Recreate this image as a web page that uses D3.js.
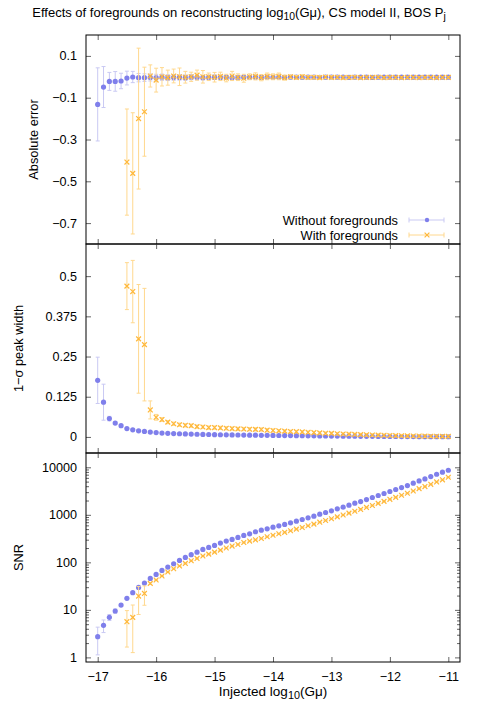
<!DOCTYPE html>
<html><head><meta charset="utf-8">
<script src="https://cdn.jsdelivr.net/npm/d3@7"></script>
<style>
body{margin:0;background:#fff}
svg{display:block}
text{font-family:"Liberation Sans",Arial,Helvetica,sans-serif;fill:#000}
</style>
</head><body>
<svg id="chart" width="480" height="720"></svg>
<script>
// ---------- data ----------
const injected = [-17,-16.9,-16.8,-16.7,-16.6,-16.5,-16.4,-16.3,-16.2,-16.1,-16,
 -15.9,-15.8,-15.7,-15.6,-15.5,-15.4,-15.3,-15.2,-15.1,-15,
 -14.9,-14.8,-14.7,-14.6,-14.5,-14.4,-14.3,-14.2,-14.1,-14,
 -13.9,-13.8,-13.7,-13.6,-13.5,-13.4,-13.3,-13.2,-13.1,-13,
 -12.9,-12.8,-12.7,-12.6,-12.5,-12.4,-12.3,-12.2,-12.1,-12,
 -11.9,-11.8,-11.7,-11.6,-11.5,-11.4,-11.3,-11.2,-11.1,-11];
const injectedWith = injected.slice(5); // with-foreground runs start at -16.5

const absErrWithout = [-0.132,-0.049,-0.022,-0.022,-0.020,-0.006,-0.001,-0.004,-0.004,-0.003,-0.004,
 -0.002,-0.004,-0.003,-0.003,-0.004,-0.002,-0.003,-0.004,-0.003,-0.002,
 -0.003,-0.002,-0.004,-0.003,-0.002,-0.003,-0.002,-0.003,-0.002,-0.003,
 -0.002,-0.003,-0.002,-0.002,-0.003,-0.002,-0.002,-0.003,-0.002,-0.002,
 -0.002,-0.002,-0.003,-0.002,-0.002,-0.002,-0.003,-0.002,-0.002,-0.002,
 -0.002,-0.002,-0.002,-0.002,-0.002,-0.002,-0.002,-0.002,-0.002,-0.002];
const absErrWithoutSd = [0.175,0.098,0.043,0.047,0.037,0.033,0.027,0.020,0.018,0.017,0.016,
 0.015,0.014,0.014,0.013,0.013,0.012,0.012,0.011,0.011,0.011,
 0.010,0.010,0.010,0.009,0.009,0.009,0.009,0.008,0.008,0.008,
 0.008,0.007,0.007,0.007,0.007,0.006,0.006,0.006,0.006,0.006,
 0.006,0.005,0.005,0.005,0.005,0.005,0.005,0.005,0.004,0.004,
 0.004,0.004,0.004,0.004,0.004,0.004,0.004,0.004,0.004,0.004];
const absErrWith = [-0.408,-0.462,-0.200,-0.167,0.004,-0.016,
 0.000,-0.004,0.004,0.000,-0.002,0.000,0.008,0.000,0.000,-0.002,
 0.002,-0.006,0.004,-0.002,-0.007,0.000,0.002,-0.004,0.002,0.000,
 0.002,-0.004,0.000,-0.003,0.000,-0.003,-0.002,-0.004,-0.001,-0.003,
 -0.002,-0.004,-0.003,-0.002,-0.004,-0.003,-0.003,-0.002,-0.004,-0.003,
 -0.003,-0.004,-0.003,-0.003,-0.004,-0.003,-0.003,-0.004,-0.003,-0.003];
const absErrWithSd = [0.254,0.290,0.337,0.213,0.053,0.057,
 0.044,0.036,0.033,0.042,0.028,0.022,0.024,0.030,0.018,0.023,
 0.020,0.018,0.022,0.016,0.019,0.014,0.017,0.015,0.016,0.014,
 0.016,0.012,0.009,0.009,0.010,0.008,0.008,0.009,0.007,0.008,
 0.007,0.007,0.006,0.007,0.006,0.006,0.006,0.006,0.005,0.006,
 0.005,0.005,0.005,0.005,0.005,0.004,0.005,0.004,0.004,0.004];

const widthWithout = [0.176,0.108,0.057,0.043,0.035,0.026,0.022,0.019,0.017,0.015,0.0135,
 0.012,0.0112,0.0105,0.0099,0.0093,0.0088,0.0083,0.0079,0.0075,0.0071,
 0.0068,0.0065,0.0062,0.0060,0.0058,0.0055,0.0053,0.0051,0.0049,0.0047,
 0.0045,0.0043,0.0041,0.0039,0.0037,0.0035,0.0033,0.0031,0.0029,0.0027,
 0.0026,0.0024,0.0023,0.0021,0.0020,0.0019,0.0018,0.0016,0.0015,0.0014,
 0.0013,0.0012,0.0011,0.0010,0.0009,0.0009,0.0008,0.0007,0.0007,0.0006];
const widthWithoutSd = [0.072,0.056,0.007,0.004,0.003,0.002,0.002,0.002,0.002,0.002,0.002,
 0.001,0.001,0.001,0.001,0.001,0.001,0.001,0.001,0.001,0.001,
 0.001,0.001,0.001,0.001,0.001,0.001,0.001,0.001,0.001,0.001,
 0.001,0.001,0.001,0.001,0.001,0.001,0.001,0.001,0.001,0.001,
 0.001,0.001,0.001,0.001,0.001,0.001,0.001,0.001,0.001,0.001,
 0.001,0.001,0.001,0.001,0.001,0.001,0.001,0.001,0.001,0.001];
const widthWith = [0.469,0.452,0.305,0.287,0.084,0.061,
 0.054,0.046,0.041,0.038,0.036,0.035,0.032,0.031,0.029,0.029,
 0.028,0.027,0.026,0.025,0.0245,0.024,0.0235,0.023,0.021,0.020,
 0.019,0.018,0.017,0.0163,0.0155,0.0145,0.0135,0.0125,0.0115,0.011,
 0.0100,0.0092,0.0085,0.0078,0.0072,0.0066,0.0060,0.0055,0.0050,0.0045,
 0.0041,0.0037,0.0033,0.0030,0.0027,0.0024,0.0021,0.0019,0.0017,0.0015];
const widthWithSd = [0.073,0.097,0.169,0.175,0.028,0.009,
 0.006,0.005,0.005,0.005,0.005,0.005,0.005,0.005,0.005,0.005,
 0.005,0.005,0.005,0.005,0.005,0.005,0.005,0.005,0.005,0.005,
 0.004,0.004,0.004,0.004,0.004,0.004,0.004,0.004,0.004,0.004,
 0.004,0.004,0.004,0.004,0.004,0.004,0.004,0.004,0.004,0.004,
 0.004,0.004,0.004,0.004,0.004,0.004,0.004,0.004,0.004,0.004];

const snrWithout = [2.73,4.73,6.97,9.47,12.6,17.5,23.0,29.7,36.7,46.0,55.7,
 67.6,79.6,93.5,110,127,145,164,187,206,227,
 254,280,303,334,368,399,440,476,508,551,
 587,627,679,736,798,865,938,1033,1120,1213,
 1336,1448,1595,1758,1905,2099,2313,2549,2808,3094,
 3409,3750,4130,4625,5180,5700,6380,7150,7880,8680];
const snrWithoutSd = [1.6,1.4,1.0,1.0,0.8,0.8,0.9,1.0,1.0,1.1,1.2,
 1.3,1.4,1.5,1.7,1.9,2.1,2.3,2.6,2.8,3.1,
 3.4,3.7,4.0,4.4,4.8,5.2,5.7,6.2,6.6,7.1,
 7.6,8.1,8.7,9.4,10,11,12,13,14,15,
 17,18,20,22,24,26,28,31,34,37,
 40,44,48,53,58,63,70,77,84,92];
const snrWith = [5.65,6.96,19.5,22.2,36,42.5,
 51.5,62.5,73.4,83.6,94.9,108,121,136,149,164,
 181,200,220,238,262,280,298,318,345,372,
 400,428,463,500,542,588,638,700,760,825,
 905,990,1085,1190,1300,1430,1570,1740,1920,2120,
 2330,2580,2850,3180,3560,3930,4380,4920,5450,6190];
const snrWithSd = [4.0,5.7,11.5,9.7,1.6,1.2,
 1.2,1.3,1.4,1.5,1.6,1.7,1.8,2.0,2.1,2.3,
 2.5,2.7,2.9,3.1,3.3,3.5,3.8,4.0,4.3,4.6,
 4.9,5.2,5.6,6.0,6.5,7.0,7.5,8.2,8.9,9.6,
 10.4,11.3,12.3,13.4,14.6,16,17.5,19,21,23,
 25,27.5,30,33,37,40,44,49,54,60];

const xTicks = [-17,-16,-15,-14,-13,-12,-11];
const xTickLabels = ["\u221217","\u221216","\u221215","\u221214","\u221213","\u221212","\u221211"];
const absTicks = [0.1,-0.1,-0.3,-0.5,-0.7];
const absTickLabels = ["0.1","\u22120.1","\u22120.3","\u22120.5","\u22120.7"];
const widthTicks = [0.5,0.375,0.25,0.125,0];
const widthTickLabels = ["0.5","0.375","0.25","0.125","0"];
const snrTicks = [1,10,100,1000,10000];
const snrTickLabels = ["1","10","100","1000","10000"];
const seriesNames = ["Without foregrounds","With foregrounds"];

// ---------- style ----------
const BLUE = "#7f7feb", BLUE_ERR = "#c9c9f3";
const ORANGE = "#ffb83a", ORANGE_ERR = "#ffd88e";
const TICK = "#666";
const FS = 12.8;

const svg = d3.select("#chart");
const L = 86, R = 460;
const x = d3.scaleLinear().domain([-17.2, -10.8]).range([L, R]);

const panels = [
  {top:35, bot:244, scale:d3.scaleLinear().domain([-0.8,0.2]).range([244,35]),
   ticks:absTicks, labels:absTickLabels, title:"Absolute error", labelX:33,
   blue:absErrWithout, blueSd:absErrWithoutSd, orange:absErrWith, orangeSd:absErrWithSd},
  {top:244, bot:453, scale:d3.scaleLinear().domain([-0.05,0.6]).range([453,244]),
   ticks:widthTicks, labels:widthTickLabels, title:"1\u2212\u03c3 peak width", labelX:18,
   blue:widthWithout, blueSd:widthWithoutSd, orange:widthWith, orangeSd:widthWithSd},
  {top:453, bot:662, scale:d3.scaleLog().domain([0.8,20000]).range([662,453]),
   ticks:snrTicks, labels:snrTickLabels, title:"SNR", labelX:18, log:true,
   blue:snrWithout, blueSd:snrWithoutSd, orange:snrWith, orangeSd:snrWithSd}
];

panels.forEach((p, pi) => {
  const y = p.scale;
  const g = svg.append("g");
  const clipId = "clip" + pi;
  svg.append("clipPath").attr("id", clipId).append("rect")
    .attr("x", L).attr("y", p.top).attr("width", R - L).attr("height", p.bot - p.top);

  // axes (ticks inward, mirrored)
  const styleAxis = sel => { sel.select(".domain").remove(); sel.selectAll(".tick line").attr("stroke", TICK); };
  g.append("g").attr("transform", `translate(${L},0)`)
    .call(d3.axisLeft(y).tickValues(p.ticks).tickSize(-5).tickPadding(9)
      .tickFormat((d,i) => p.labels[i]))
    .call(styleAxis)
    .call(s => s.selectAll("text").attr("font-size", 12.6).attr("font-family", null));
  g.append("g").attr("transform", `translate(${R},0)`)
    .call(d3.axisRight(y).tickValues(p.ticks).tickSize(-5).tickFormat(""))
    .call(styleAxis);
  if (p.log) {
    const minor = [];
    [1,10,100,1000,10000].forEach(dec => [2,3,4,5,6,7,8,9].forEach(m => { const v = dec*m; if (v < 20000) minor.push(v); }));
    g.append("g").attr("transform", `translate(${L},0)`)
      .call(d3.axisLeft(y).tickValues(minor).tickSize(-3).tickFormat("")).call(styleAxis);
    g.append("g").attr("transform", `translate(${R},0)`)
      .call(d3.axisRight(y).tickValues(minor).tickSize(-3).tickFormat("")).call(styleAxis);
  }
  g.append("g").attr("transform", `translate(0,${p.top})`)
    .call(d3.axisTop(x).tickValues(xTicks).tickSize(-5).tickFormat("")).call(styleAxis);
  g.append("g").attr("transform", `translate(0,${p.bot})`)
    .call(d3.axisBottom(x).tickValues(xTicks).tickSize(-5).tickPadding(10)
      .tickFormat((d,i) => pi === 2 ? xTickLabels[i] : ""))
    .call(styleAxis)
    .call(s => s.selectAll("text").attr("font-size", 12.6).attr("font-family", null));

  // y label
  svg.append("text").attr("transform", `translate(${p.labelX},${(p.top+p.bot)/2}) rotate(-90)`)
    .attr("text-anchor", "middle").attr("dominant-baseline", "central")
    .attr("font-size", FS).text(p.title);

  // series
  const plot = svg.append("g").attr("clip-path", `url(#${clipId})`);
  const lowClamp = v => p.log ? Math.max(v, 0.5) : v;
  const drawSeries = (xs, vals, sds, errColor, kind) => {
    const data = xs.map((xv, i) => ({x: xv, v: vals[i], e: sds[i]}));
    const eg = plot.append("g").attr("stroke", errColor).attr("stroke-width", 1).attr("fill", "none");
    data.forEach(d => {
      const cx = x(d.x), y1 = y(lowClamp(d.v - d.e)), y2 = y(d.v + d.e);
      eg.append("line").attr("x1", cx).attr("x2", cx).attr("y1", y1).attr("y2", y2);
      eg.append("line").attr("x1", cx - 2).attr("x2", cx + 2).attr("y1", y1).attr("y2", y1);
      eg.append("line").attr("x1", cx - 2).attr("x2", cx + 2).attr("y1", y2).attr("y2", y2);
    });
    if (kind === "dot") {
      plot.append("g").selectAll("circle").data(data).join("circle")
        .attr("cx", d => x(d.x)).attr("cy", d => y(d.v)).attr("r", 2.6).attr("fill", BLUE);
    } else {
      plot.append("g").selectAll("path").data(data).join("path")
        .attr("d", d => { const cx = x(d.x), cy = y(d.v), s = 2.4;
          return `M${cx-s},${cy-s}L${cx+s},${cy+s}M${cx-s},${cy+s}L${cx+s},${cy-s}`; })
        .attr("stroke", ORANGE).attr("stroke-width", 1.2).attr("fill", "none");
    }
  };
  drawSeries(injected, p.blue, p.blueSd, BLUE_ERR, "dot");
  drawSeries(injectedWith, p.orange, p.orangeSd, ORANGE_ERR, "x");

  // frame
  svg.append("rect").attr("x", L).attr("y", p.top).attr("width", R - L).attr("height", p.bot - p.top)
    .attr("fill", "none").attr("stroke", "#000").attr("stroke-width", 1);
});

// legend (in top panel)
const legendRows = [{name: seriesNames[0], y: 220, kind: "dot"}, {name: seriesNames[1], y: 235, kind: "x"}];
const lg = svg.append("g");
legendRows.forEach(r => {
  lg.append("text").attr("x", 398).attr("y", r.y).attr("text-anchor", "end")
    .attr("dominant-baseline", "central").attr("font-size", 12.8).text(r.name);
  const col = r.kind === "dot" ? BLUE_ERR : ORANGE_ERR;
  lg.append("line").attr("x1", 409).attr("x2", 444).attr("y1", r.y).attr("y2", r.y).attr("stroke", col);
  lg.append("line").attr("x1", 409).attr("x2", 409).attr("y1", r.y - 2.5).attr("y2", r.y + 2.5).attr("stroke", col);
  lg.append("line").attr("x1", 444).attr("x2", 444).attr("y1", r.y - 2.5).attr("y2", r.y + 2.5).attr("stroke", col);
  if (r.kind === "dot") lg.append("circle").attr("cx", 427).attr("cy", r.y).attr("r", 2.2).attr("fill", BLUE);
  else lg.append("path").attr("d", `M424.6,${r.y-2.4}L429.4,${r.y+2.4}M424.6,${r.y+2.4}L429.4,${r.y-2.4}`)
    .attr("stroke", ORANGE).attr("stroke-width", 1.2);
});

// title
const title = svg.append("text").attr("x", 239).attr("y", 17).attr("text-anchor", "middle").attr("font-size", 13);
title.append("tspan").text("Effects of foregrounds on reconstructing log");
title.append("tspan").attr("font-size", 10.4).attr("dy", 3).text("10");
title.append("tspan").attr("dy", -3).text("(G\u03bc), CS model II, BOS P");
title.append("tspan").attr("font-size", 10.4).attr("dy", 3).text("j");

// x label
const xl = svg.append("text").attr("x", (L + R) / 2).attr("y", 696).attr("text-anchor", "middle").attr("font-size", 13.5);
xl.append("tspan").text("Injected log");
xl.append("tspan").attr("font-size", 10.8).attr("dy", 3).text("10");
xl.append("tspan").attr("dy", -3).text("(G\u03bc)");
</script>
</body></html>
